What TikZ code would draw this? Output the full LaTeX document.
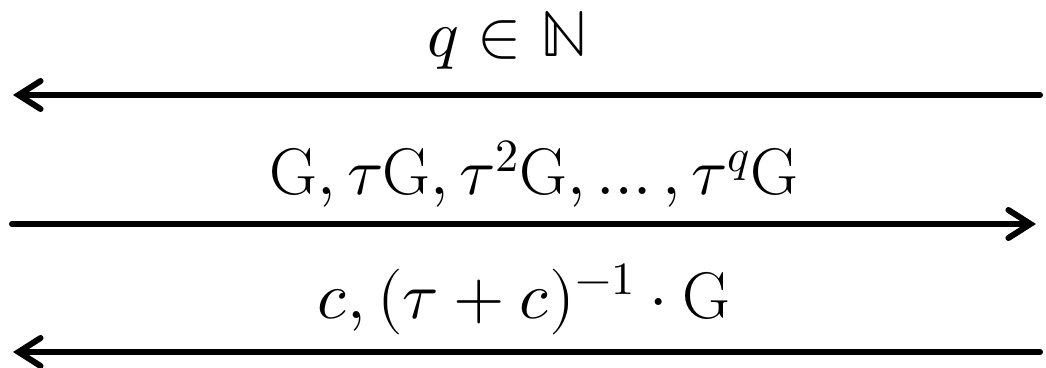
\documentclass[tikz,border=0pt]{standalone}
\usepackage{unicode-math}
\setmathfont{Latin Modern Math}
\usetikzlibrary{arrows.meta}
\tikzset{
  msg/.style={line width=6pt, line cap=round, -{Straight Barb[length=22pt,width=28pt,line cap=round]}},
  lbl/.style={anchor=base, inner sep=0pt, font=\fontsize{66}{74}\selectfont}
}
\begin{document}
\begin{tikzpicture}[x=1pt,y=1pt]
\useasboundingbox (0,0) rectangle (1046,367);
\coordinate (l1) at (13,272);
\coordinate (r1) at (1040,272);
\coordinate (l2) at (12,143);
\coordinate (r2) at (1036,143);
\coordinate (l3) at (13,15);
\coordinate (r3) at (1040,15);
\draw[msg] (r1) -- (l1);
\draw[msg] (l2) -- (r2);
\draw[msg] (r3) -- (l3);
\node[lbl] (t1) at (508,310) {$q\in\mathbb{N}$};
\node[lbl] (t2) at (534,172) {$\mathrm{G},\tau\mathrm{G},\tau^{2}\mathrm{G},\ldots,\tau^{q}\mathrm{G}$};
\node[lbl] (t3) at (524,49) {$c,(\tau+c)^{-1}\cdot\mathrm{G}$};
\end{tikzpicture}
\end{document}
